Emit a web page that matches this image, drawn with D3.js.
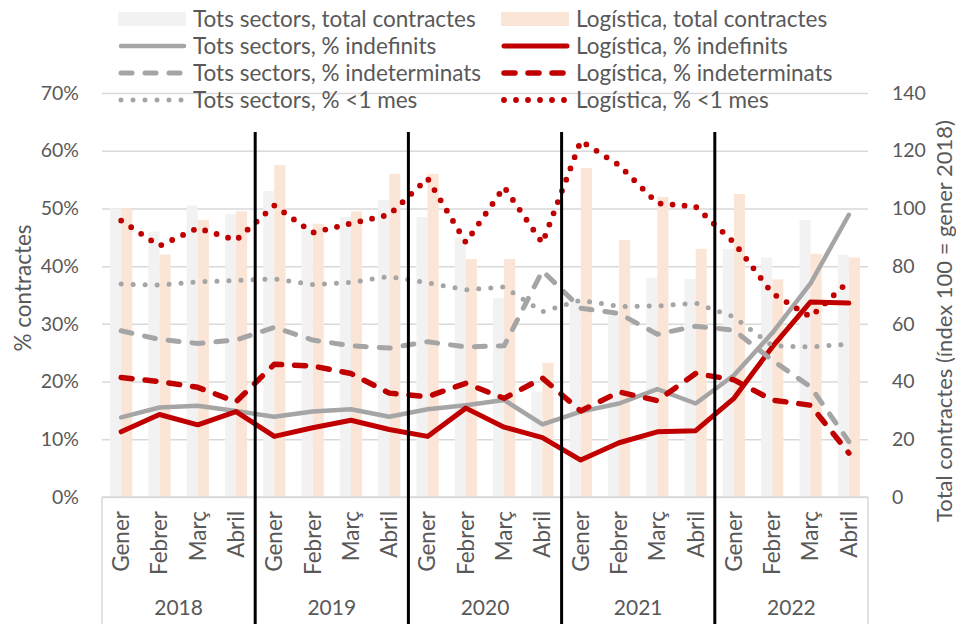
<!DOCTYPE html>
<html><head><meta charset="utf-8">
<script src="https://cdn.jsdelivr.net/npm/d3@7"></script>
<style>body{margin:0;background:#fff}svg{display:block}</style>
</head><body><svg id="c" width="956" height="624"></svg>
<script>
const years = ["2018","2019","2020","2021","2022"];
const months = ["Gener","Febrer","Març","Abril"];
const totsTotal = [100,92,101,98, 106,92.5,97,103, 97,90,69,36.5, 68,63,76,75.5, 86,83,96,84];
const logTotal  = [100,84,96,99, 115,94.7,99,112, 112,82.5,82.5,46.5, 114,89,104,86, 105,75.4,84.3,83];
const totsIndef = [13.8,15.5,15.8,14.9, 13.9,14.8,15.2,13.9, 15.2,15.9,16.8,12.6, 14.8,16.2,18.7,16.2, 21.1,28.4,37.0,48.9];
const logIndef  = [11.3,14.3,12.5,14.8, 10.5,12.0,13.3,11.7, 10.5,15.4,12.1,10.3, 6.4,9.4,11.3,11.5, 17.1,26.0,33.8,33.6];
const totsIndet = [28.8,27.3,26.6,27.2, 29.4,27.2,26.2,25.8, 26.9,26.0,26.2,39.2, 32.7,31.8,28.2,29.6, 28.9,23.7,19.1,9.6];
const logIndet  = [20.7,20.0,19.0,16.5, 23.0,22.7,21.4,18.0, 17.4,19.7,17.1,20.6, 14.9,18.2,16.7,21.4, 20.3,16.8,15.9,7.6];
const totsMes   = [36.9,36.7,37.3,37.5, 37.8,36.8,37.2,38.2, 37.1,35.9,36.4,32.1, 34.1,33.0,33.1,33.6, 31.2,26.2,26.0,26.5];
const logMes    = [47.9,43.5,46.6,44.5, 50.5,45.8,47.4,48.9, 55.2,44.1,53.7,44.0, 61.7,57.5,50.9,50.3, 44.1,35.3,31.2,37.4];
const pctTicks = [0,10,20,30,40,50,60,70];
const idxTicks = [0,20,40,60,80,100,120,140];

const FONT = "Lato, 'Open Sans', sans-serif";
const TXT = "#595959";
const GREY = "#A5A5A5", RED = "#C00000", GREYBAR = "#F2F2F2", PEACH = "#FBE5D6";
const NUM = 19.5, WORD = 22.5;

const svg = d3.select("#c");
const L = 102, R = 868, T = 93, B = 497;
const idx = d3.range(20);
const x = d3.scaleBand().domain(idx).range([L, R]).padding(0);
const bw = x.bandwidth();
const xs = d3.scaleBand().domain(["tots","log"]).range([bw*0.21, bw*0.79]).padding(0);
const yL = d3.scaleLinear().domain([0,70]).range([B, T]);
const yR = d3.scaleLinear().domain([0,140]).range([B, T]);

// gridlines
const grid = svg.append("g").attr("transform",`translate(${L},0)`)
  .call(d3.axisLeft(yL).tickValues(pctTicks).tickSize(-(R-L)).tickFormat(""));
grid.select(".domain").remove();
grid.selectAll("line").attr("stroke","#D9D9D9").attr("stroke-width",1.5);

// bars
const bars = svg.append("g");
bars.selectAll("rect.t").data(totsTotal).join("rect")
  .attr("x",(d,i)=>x(i)+xs("tots")).attr("width",xs.bandwidth())
  .attr("y",d=>yR(d)).attr("height",d=>B-yR(d)).attr("fill",GREYBAR);
bars.selectAll("rect.l").data(logTotal).join("rect")
  .attr("x",(d,i)=>x(i)+xs("log")).attr("width",xs.bandwidth())
  .attr("y",d=>yR(d)).attr("height",d=>B-yR(d)).attr("fill",PEACH);

// category axis box
const ax = svg.append("g").attr("stroke","#D9D9D9").attr("stroke-width",1.5);
ax.append("line").attr("x1",L).attr("x2",R).attr("y1",B).attr("y2",B);
[L, R].forEach(v=>ax.append("line").attr("x1",v).attr("x2",v).attr("y1",B).attr("y2",624));

// lines
const series = [
  {d:totsIndef, c:GREY, w:4.5, dash:null},
  {d:logIndef, c:RED, w:5, dash:null},
  {d:totsIndet, c:GREY, w:5, dash:"11,13"},
  {d:logIndet, c:RED, w:5.5, dash:"11,13"},
  {d:totsMes, c:GREY, w:5, dash:"0,12"},
  {d:logMes, c:RED, w:5.8, dash:"0,12"}
];
const line = d3.line().x((d,i)=>x(i)+bw/2).y(d=>yL(d));
svg.append("g").selectAll("path").data(series).join("path")
  .attr("d",s=>line(s.d)).attr("fill","none").attr("stroke",s=>s.c)
  .attr("stroke-width",s=>s.w).attr("stroke-dasharray",s=>s.dash)
  .attr("stroke-linecap","round").attr("stroke-linejoin","round");

// year separators
svg.append("g").selectAll("line").data([1,2,3,4]).join("line")
  .attr("x1",k=>x(k*4)).attr("x2",k=>x(k*4)).attr("y1",132).attr("y2",624)
  .attr("stroke","#000").attr("stroke-width",3);

// left axis labels
const la = svg.append("g").attr("transform",`translate(${L},0)`)
  .call(d3.axisLeft(yL).tickValues(pctTicks).tickSize(0).tickPadding(23).tickFormat(d=>d+"%"));
la.select(".domain").remove();
la.selectAll("text").attr("font-family",FONT).attr("font-size",NUM).attr("fill",TXT);

// right axis labels
const ra = svg.append("g").attr("transform",`translate(${R},0)`)
  .call(d3.axisRight(yR).tickValues(idxTicks).tickSize(0).tickPadding(24));
ra.select(".domain").remove();
ra.selectAll("text").attr("font-family",FONT).attr("font-size",NUM).attr("fill",TXT);

// month labels
const ma = svg.append("g").attr("transform",`translate(0,${B})`)
  .call(d3.axisBottom(x).tickSize(0).tickFormat(i=>months[i%4]));
ma.select(".domain").remove();
ma.selectAll("text").attr("font-family",FONT).attr("font-size",WORD).attr("fill",TXT)
  .attr("text-anchor","end").attr("dy","0.35em").attr("y",0)
  .attr("transform","translate(0,14) rotate(-90)");

// year labels
svg.append("g").selectAll("text").data(years).join("text")
  .attr("x",(d,k)=>x(k*4)+2*bw).attr("y",608).attr("dy","0.35em")
  .attr("text-anchor","middle").attr("font-family",FONT).attr("font-size",21)
  .attr("fill",TXT).text(d=>d);

// axis titles
svg.append("text").attr("transform","translate(23,288) rotate(-90)").attr("dy","0.35em")
  .attr("text-anchor","middle").attr("font-family",FONT).attr("font-size",WORD).attr("fill",TXT)
  .text("% contractes");
svg.append("text").attr("transform","translate(944,321) rotate(-90)").attr("dy","0.35em")
  .attr("text-anchor","middle").attr("font-family",FONT).attr("font-size",22).attr("fill",TXT)
  .text("Total contractes (índex 100 = gener 2018)");

// legend
const legendItems = [
  {t:"Tots sectors, total contractes", type:"bar", c:GREYBAR, col:0, row:0},
  {t:"Logística, total contractes", type:"bar", c:PEACH, col:1, row:0},
  {t:"Tots sectors, % indefinits", type:"line", c:GREY, w:4.5, dash:null, col:0, row:1},
  {t:"Logística, % indefinits", type:"line", c:RED, w:5, dash:null, col:1, row:1},
  {t:"Tots sectors, % indeterminats", type:"line", c:GREY, w:5, dash:"11,13", col:0, row:2},
  {t:"Logística, % indeterminats", type:"line", c:RED, w:5.5, dash:"11,13", col:1, row:2},
  {t:"Tots sectors, % <1 mes", type:"line", c:GREY, w:5, dash:"0,12", col:0, row:3},
  {t:"Logística, % <1 mes", type:"line", c:RED, w:5.8, dash:"0,12", col:1, row:3}
];
const colX = [118, 501], rowY = [19, 46, 73, 100];
const lg = svg.append("g").selectAll("g").data(legendItems).join("g")
  .attr("transform",d=>`translate(${colX[d.col]},${rowY[d.row]})`);
lg.filter(d=>d.type==="bar").append("rect").attr("x",0).attr("y",-7).attr("width",68).attr("height",14)
  .attr("fill",d=>d.c);
lg.filter(d=>d.type==="line").append("line").attr("x1",3).attr("x2",66).attr("y1",0).attr("y2",0)
  .attr("stroke",d=>d.c).attr("stroke-width",d=>d.w).attr("stroke-dasharray",d=>d.dash)
  .attr("stroke-linecap","round");
lg.append("text").attr("x",75).attr("dy","0.35em").attr("font-family",FONT).attr("font-size",WORD)
  .attr("fill",TXT).text(d=>d.t);
</script></body></html>
